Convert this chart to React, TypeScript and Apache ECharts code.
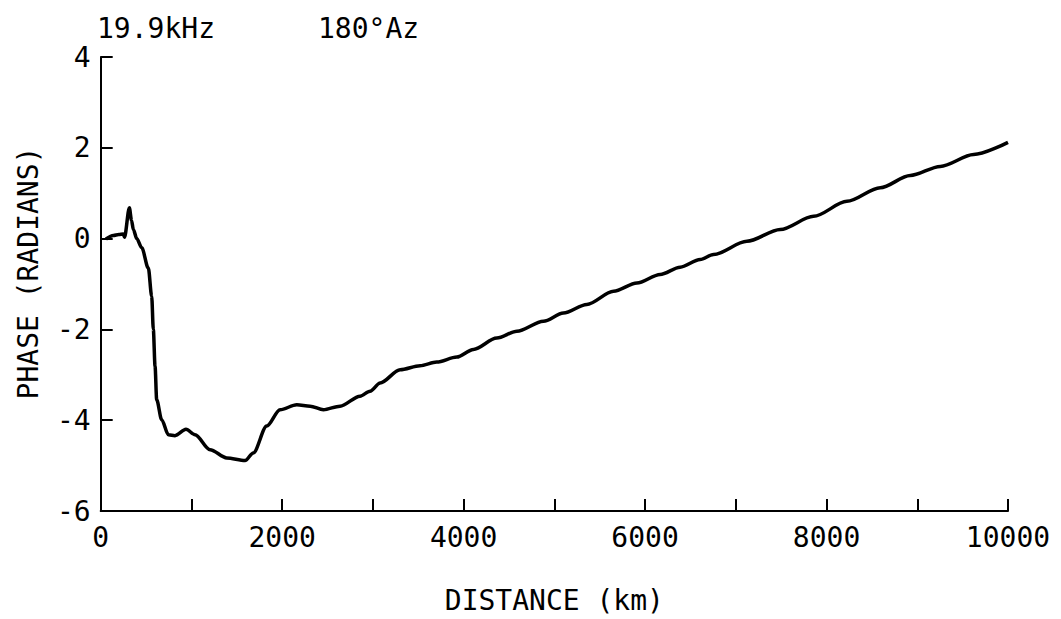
import React, { useEffect, useRef } from "react";
import * as echarts from "echarts";

const distanceKm = [
  58, 139, 200, 249, 262, 316, 340, 360, 397, 452, 525, 562, 580, 599, 617, 672,
  746, 819, 940, 1040, 1205, 1389, 1591, 1682, 1830, 1977, 2161, 2308, 2455,
  2638, 2859, 2969, 3080, 3300, 3520, 3704, 3925, 4108, 4366, 4587, 4880, 5100,
  5358, 5652, 5910, 6166, 6387, 6607, 6754, 7122, 7490, 7857, 8225, 8592, 8923,
  9254, 9621, 10000,
];
const phaseRad = [
  -0.01, 0.07, 0.09, 0.1, 0.03, 0.68, 0.4, 0.2, 0.0, -0.2, -0.65, -1.27, -2.0,
  -2.81, -3.55, -3.99, -4.32, -4.34, -4.2, -4.32, -4.65, -4.83, -4.89, -4.72,
  -4.13, -3.77, -3.66, -3.69, -3.77, -3.69, -3.47, -3.36, -3.18, -2.89, -2.8,
  -2.72, -2.61, -2.44, -2.19, -2.04, -1.82, -1.64, -1.45, -1.16, -0.98, -0.79,
  -0.63, -0.46, -0.35, -0.06, 0.2, 0.49, 0.82, 1.12, 1.39, 1.59, 1.85, 2.12,
];
const xLabelValues = [0, 2000, 4000, 6000, 8000, 10000];
const titleFreq = "19.9kHz";
const titleAz = "180°Az";
const xName = "DISTANCE (km)";
const yName = "PHASE (RADIANS)";

const FONT = "DejaVu Sans Mono";

export default function App() {
  const ref = useRef<HTMLDivElement>(null);
  useEffect(() => {
    if (!ref.current) return;
    const chart = echarts.init(ref.current, undefined, { renderer: "svg" });
    const data = distanceKm.map((d, i) => [d, phaseRad[i]]);
    chart.setOption({
      animation: false,
      backgroundColor: "#ffffff",
      grid: {
        left: 100.7,
        right: 53,
        top: 57,
        bottom: 108,
        containLabel: false,
        outerBoundsMode: "none",
      },
      xAxis: {
        type: "value",
        min: 0,
        max: 10000,
        interval: 1000,
        name: xName,
        nameLocation: "middle",
        nameGap: 75,
        nameTextStyle: { fontFamily: FONT, fontSize: 28, color: "#000" },
        axisLine: { show: true, onZero: false, lineStyle: { color: "#000", width: 2 } },
        axisTick: { show: true, inside: true, length: 12, lineStyle: { color: "#000", width: 2 } },
        axisLabel: {
          show: true,
          margin: 12,
          fontFamily: FONT,
          fontSize: 28,
          color: "#000",
          formatter: (v: number) => (xLabelValues.includes(v) ? String(v) : ""),
        },
        splitLine: { show: false },
      },
      yAxis: {
        type: "value",
        min: -6,
        max: 4,
        interval: 2,
        axisLine: { show: true, onZero: false, lineStyle: { color: "#000", width: 2 } },
        axisTick: { show: true, inside: true, length: 12, lineStyle: { color: "#000", width: 2 } },
        axisLabel: {
          show: true,
          margin: 10,
          fontFamily: FONT,
          fontSize: 28,
          color: "#000",
        },
        splitLine: { show: false },
      },
      graphic: [
        {
          type: "text",
          left: 97,
          top: 14,
          style: { text: titleFreq, font: `28px "${FONT}"`, fill: "#000" },
        },
        {
          type: "text",
          left: 318,
          top: 14,
          style: { text: titleAz, font: `28px "${FONT}"`, fill: "#000" },
        },
        {
          type: "text",
          x: 28,
          y: 273,
          rotation: Math.PI / 2,
          style: {
            text: yName,
            font: `28px "${FONT}"`,
            fill: "#000",
            align: "center",
            verticalAlign: "middle",
          },
        },
      ],
      series: [
        {
          type: "line",
          data,
          showSymbol: false,
          smooth: 0.3,
          smoothMonotone: "x",
          lineStyle: { color: "#000", width: 3.5 },
        },
      ],
    });
    return () => chart.dispose();
  }, []);
  return (
    <div
      ref={ref}
      style={{ position: "fixed", left: 0, top: 0, width: 1061, height: 619, background: "#fff" }}
    />
  );
}
